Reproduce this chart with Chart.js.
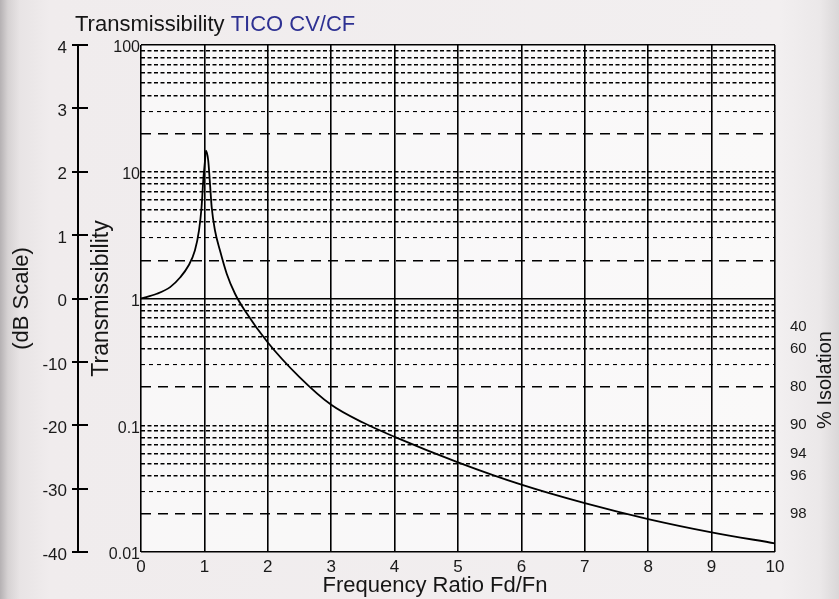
<!DOCTYPE html>
<html><head><meta charset="utf-8">
<script src="https://cdn.jsdelivr.net/npm/chart.js@4.4.1/dist/chart.umd.min.js"></script>
<style>
html,body{margin:0;padding:0;}
body{width:839px;height:599px;overflow:hidden;background:linear-gradient(to right,#b5b1b3 0px,#d6d2d3 8px,#e8e4e5 20px,#f0eced 50px,#f2eff0 780px,#ebe8e9 820px,#dad7d8 839px);}
#wrap{position:relative;width:839px;height:599px;}
</style></head><body><div id="wrap"><canvas id="c" width="839" height="599"></canvas></div>
<script>
// ---- data ----
const frequencyRatio = [0, 0.25, 0.46, 0.62, 0.75, 0.85, 0.915, 0.955, 0.983, 1.01, 1.025, 1.06, 1.088, 1.115, 1.167, 1.246, 1.352, 1.483, 1.64, 2, 2.5, 3, 3.5, 4, 5, 6, 7, 8, 9, 10];
const transmissibility = [1.0, 1.09, 1.23, 1.47, 1.82, 2.39, 3.44, 5.25, 8.7, 12.3, 14.7, 12.3, 8.06, 5.25, 3.44, 2.39, 1.57, 1.09, 0.80, 0.45, 0.24, 0.145, 0.105, 0.081, 0.051, 0.034, 0.0243, 0.0182, 0.0143, 0.0117];
const xTickValues = [0, 1, 2, 3, 4, 5, 6, 7, 8, 9, 10];
const yDecades = [0.01, 0.1, 1, 10, 100];
const yDecadeLabels = ['0.01', '0.1', '1', '10', '100'];
const gridMultipliers = [1, 2, 3, 4, 5, 6, 7, 8, 9];
const dbLabels = ['-40', '-30', '-20', '-10', '0', '1', '2', '3', '4'];
const isolationPercent = [40, 60, 80, 90, 94, 96, 98];

const titleBlack = 'Transmissibility ';
const titleBlue = 'TICO CV/CF';
const xTitle = 'Frequency Ratio Fd/Fn';
const isoTitle = '% Isolation';

// gridline values on the log axis
const yGridValues = [];
yDecades.slice(0, -1).forEach(d => gridMultipliers.forEach(m => yGridValues.push(+(d * m).toPrecision(3))));
yGridValues.push(yDecades[yDecades.length - 1]);

const FONT = '"Liberation Sans", Arial, sans-serif';
function mant(v) { const e = Math.floor(Math.log10(v) + 1e-9); return Math.round(v / Math.pow(10, e)); }
function isSolid(v) { return v === 1 || v === 0.01 || v === 100; }

const decor = {
  id: 'decor',
  beforeDraw(chart) {
    const {ctx, chartArea: a} = chart;
    ctx.save();
    ctx.fillStyle = 'rgba(255,255,255,0.6)';
    ctx.fillRect(a.left, a.top, a.right - a.left, a.bottom - a.top);
    ctx.restore();
  },
  afterDraw(chart) {
    const ctx = chart.ctx;
    ctx.save();
    // main title
    ctx.font = '22px ' + FONT;
    ctx.textAlign = 'left';
    ctx.textBaseline = 'alphabetic';
    ctx.fillStyle = '#151515';
    ctx.fillText(titleBlack, 75, 31);
    ctx.fillStyle = '#2e3192';
    ctx.fillText(titleBlue, 75 + ctx.measureText(titleBlack).width, 31);
    // x title
    ctx.fillStyle = '#151515';
    ctx.textAlign = 'center';
    ctx.font = '22px ' + FONT;
    ctx.fillText(xTitle, 435, 592);
    // % Isolation
    ctx.save();
    ctx.translate(831, 380);
    ctx.rotate(-Math.PI / 2);
    ctx.font = '20px ' + FONT;
    ctx.textAlign = 'center';
    ctx.textBaseline = 'alphabetic';
    ctx.fillText(isoTitle, 0, 0);
    ctx.restore();
    // dB axis line
    const s = chart.scales.db;
    ctx.strokeStyle = '#000';
    ctx.lineWidth = 2;
    ctx.beginPath();
    ctx.moveTo(s.right - 10, s.top);
    ctx.lineTo(s.right - 10, s.bottom);
    ctx.stroke();
    ctx.restore();
  }
};

new Chart(document.getElementById('c'), {
  type: 'line',
  data: {
    datasets: [{
      data: frequencyRatio.map((r, i) => ({x: r, y: transmissibility[i]})),
      borderColor: '#000',
      borderWidth: 1.8,
      pointRadius: 0,
      cubicInterpolationMode: 'monotone',
      fill: false,
      xAxisID: 'x',
      yAxisID: 'y'
    }]
  },
  options: {
    responsive: false,
    animation: false,
    events: [],
    layout: {padding: {top: 45, left: 0, right: 0, bottom: 0}},
    plugins: {legend: {display: false}, tooltip: {enabled: false}, title: {display: false}},
    scales: {
      x: {
        type: 'linear', position: 'bottom', min: 0, max: 10,
        afterBuildTicks: s => { s.ticks = xTickValues.map(v => ({value: v})); },
        afterFit: s => { s.height = 47; },
        grid: {color: '#000', lineWidth: 1.6, drawTicks: false},
        border: {display: false},
        ticks: {autoSkip: false, maxRotation: 0, padding: 5, color: '#1a1a1a', font: {family: FONT, size: 17}}
      },
      y: {
        type: 'logarithmic', position: 'left', min: 0.01, max: 100, weight: 1,
        afterBuildTicks: s => { s.ticks = yGridValues.map(v => ({value: v})); },
        afterFit: s => { s.width = 53; },
        grid: {
          color: '#000',
          drawTicks: false,
          lineWidth: c => { if (!c.tick) return 1.5; const v = c.tick.value; if (isSolid(v)) return 1.6; const m = mant(v); return m === 2 ? 1.4 : (m === 3 ? 1.1 : 1.5); }
        },
        border: {
          display: false,
          dash: c => { if (!c.tick) return []; const v = c.tick.value; if (isSolid(v)) return []; const m = mant(v); return m === 2 ? [10, 7] : (m === 3 ? [4, 4] : [4, 2.5]); }
        },
        ticks: {
          autoSkip: false, padding: 1, labelOffset: 3, color: '#1a1a1a', font: {family: FONT, size: 16},
          callback: v => { const i = yDecades.indexOf(v); return i >= 0 ? yDecadeLabels[i] : ''; }
        },
        title: {display: true, text: 'Transmissibility', color: '#151515', font: {family: FONT, size: 23}, padding: {top: 0, bottom: 0}}
      },
      db: {
        type: 'linear', position: 'left', min: 0, max: dbLabels.length - 1, weight: 10,
        afterBuildTicks: s => { s.ticks = dbLabels.map((l, i) => ({value: i})); },
        afterFit: s => { s.width = 88; },
        grid: {drawOnChartArea: false, drawTicks: true, tickLength: 16, color: '#000', lineWidth: 2},
        border: {display: false},
        ticks: {
          autoSkip: false, padding: 5, labelOffset: 3, color: '#1a1a1a', font: {family: FONT, size: 17},
          callback: (v, i) => dbLabels[i]
        },
        title: {display: true, text: '(dB Scale)', color: '#151515', font: {family: FONT, size: 22}, padding: {top: 9, bottom: 0}}
      },
      iso: {
        type: 'logarithmic', position: 'right', min: 0.01, max: 100,
        afterBuildTicks: s => { s.ticks = isolationPercent.map(p => ({value: (100 - p) / 100})); },
        afterFit: s => { s.width = 64; },
        grid: {display: false, drawTicks: false},
        border: {display: false},
        ticks: {
          autoSkip: false, padding: 15, color: '#1a1a1a', font: {family: FONT, size: 15},
          callback: v => String(Math.round(100 - v * 100))
        }
      }
    }
  },
  plugins: [decor]
});
</script>
</body></html>
